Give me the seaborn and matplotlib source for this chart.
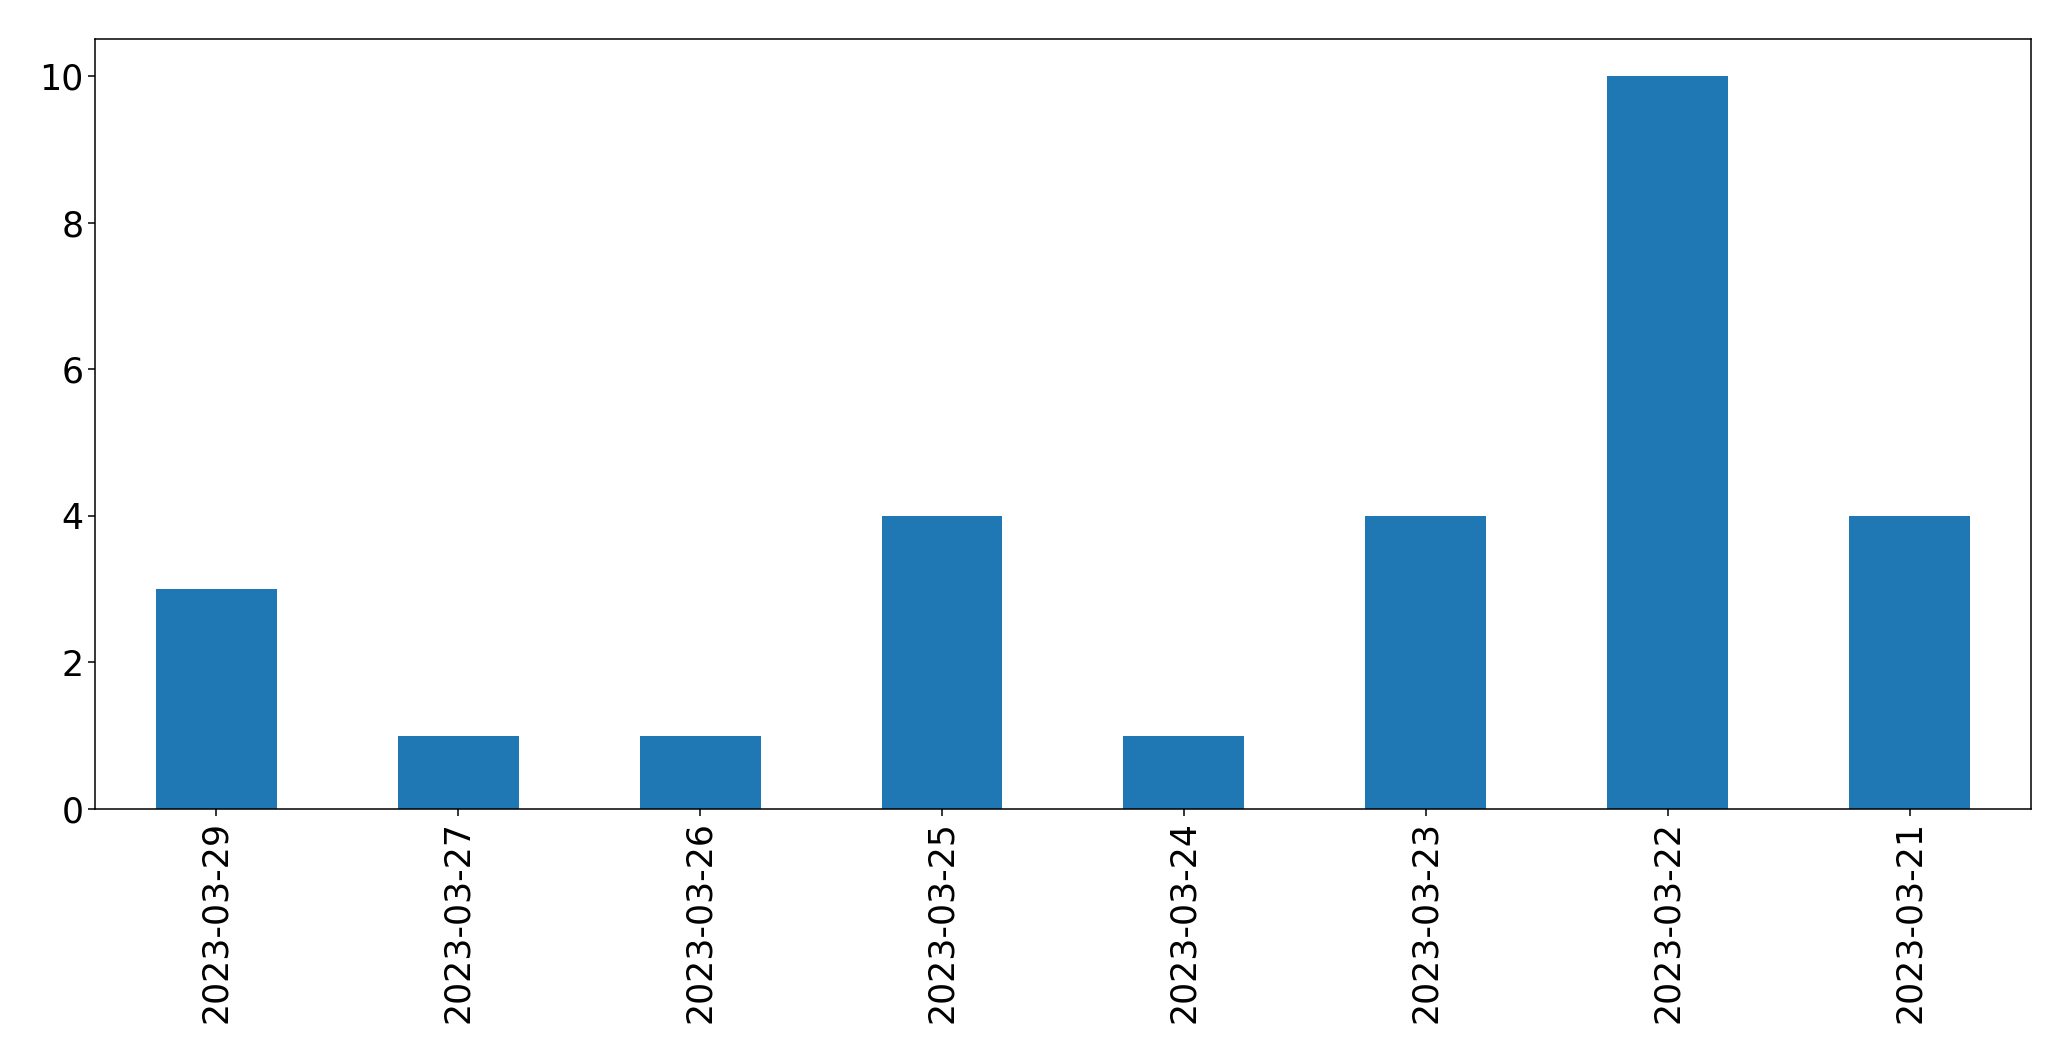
import pandas as pd
import matplotlib
matplotlib.use("Agg")
import matplotlib.pyplot as plt
import seaborn as sns

# counts per day, in the order shown
dates = ["2023-03-29", "2023-03-27", "2023-03-26", "2023-03-25",
         "2023-03-24", "2023-03-23", "2023-03-22", "2023-03-21"]
counts = [3, 1, 1, 4, 1, 4, 10, 4]

df = pd.DataFrame({"date": dates, "count": counts})

sns.set_style("ticks")
plt.rcParams["font.family"] = ["DejaVu Sans"]

fig, ax = plt.subplots(figsize=(20.71, 10.61), dpi=100)
sns.barplot(data=df, x="date", y="count", order=dates, color="#1f77b4",
            saturation=1, width=0.5, linewidth=0, ax=ax)

ax.set_xlim(-0.5, len(dates) - 0.5)
ax.set_ylim(0, 10.5)
ax.set_xlabel("")
ax.set_ylabel("")
ax.tick_params(axis="x", labelrotation=90)
ax.tick_params(labelsize=25, length=5, width=1.1, color="black",
               labelcolor="black")
for s in ax.spines.values():
    s.set_visible(True)
    s.set_linewidth(1.1)
    s.set_color("black")

plt.subplots_adjust(left=0.046, right=0.9805, top=0.963, bottom=0.2375)
plt.savefig("out.png", dpi=100)
plt.close()
